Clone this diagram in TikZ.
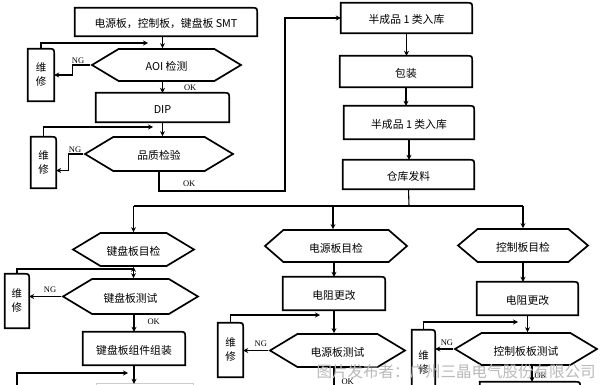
\documentclass[tikz,border=0pt]{standalone}
\usepackage{fontspec}
\setmainfont{Liberation Serif}
\newfontfamily\cjk{Noto Sans CJK SC}
\usetikzlibrary{arrows.meta,positioning,shapes.symbols}

\begin{document}
\begin{tikzpicture}[x=1pt,y=-1pt,
  proc/.style={rectangle,inner sep=0pt,font=\cjk\fontsize{10.8}{12}\selectfont,
    text height=12pt,text depth=0pt},
  check/.style={signal,signal to=east and west,signal pointer angle=62,draw,
    line width=1.7pt,inner sep=0pt,font=\cjk\fontsize{10.8}{12}\selectfont,
    text height=12pt,text depth=0pt},
  fix/.style={rectangle,inner sep=0pt,align=center,
    font=\cjk\fontsize{10.5}{14}\selectfont},
  outline/.style={line width=1.7pt,line join=miter},
  flow/.style={-{Stealth[length=5pt,width=5pt]},line width=1.1pt},
  back/.style={line width=1.1pt},
  elabel/.style={font=\fontsize{8.5}{9}\selectfont,inner sep=1pt}
]
\useasboundingbox (0,0) rectangle (600,385);
\fill[white] (0,0) rectangle (600,385);
\clip (0,0) rectangle (600,385);

% left column
\node[proc,minimum width=182pt,minimum height=28pt] (smt) at (166,22) {电源板，控制板，键盘板 SMT};
\node[check,minimum width=149pt,minimum height=32pt] (aoi) at (166.5,65) {AOI 检测};
\node[proc,minimum width=133pt,minimum height=29pt] (dip) at (162.5,107.5) {DIP};
\node[check,minimum width=148pt,minimum height=34pt] (qc) at (159,154) {品质检验};
\node[fix,minimum width=26pt,minimum height=52pt] (rep1) at (41,75) {维\\修};
\node[fix,minimum width=25pt,minimum height=51pt] (rep2) at (43.5,162.5) {维\\修};

% middle column
\node[proc,minimum width=131pt,minimum height=30pt] (semi1) at (406.5,18) {半成品 1 类入库};
\node[proc,minimum width=132pt,minimum height=31pt] (pack) at (406,71.5) {包装};
\node[proc,minimum width=130pt,minimum height=33pt] (semi2) at (409,122.5) {半成品 1 类入库};
\node[proc,minimum width=131pt,minimum height=29pt] (store) at (408.5,174.5) {仓库发料};
\coordinate (split) at (409,206);

% keyboard board
\node[check,minimum width=121pt,minimum height=33pt] (kbchk) at (133.5,249.5) {键盘板目检};
\node[check,minimum width=135pt,minimum height=35pt] (kbtest) at (130.5,296.5) {键盘板测试};
\node[fix,minimum width=24pt,minimum height=54pt] (rep3) at (17,301) {维\\修};
\node[proc,minimum width=102pt,minimum height=33pt] (kbasm) at (134,348.5) {键盘板组件组装};
\node[proc,minimum width=96pt,minimum height=32pt] (kbnext) at (145,400) {};

% power board
\node[check,signal pointer angle=82,minimum width=142pt,minimum height=32pt] (pschk) at (336,246) {电源板目检};
\node[proc,minimum width=102pt,minimum height=33pt] (psres) at (334,293.5) {电阻更改};
\node[check,minimum width=135pt,minimum height=33pt] (pstest) at (337.5,350.5) {电源板测试};
\node[fix,minimum width=25pt,minimum height=54pt] (rep4) at (230.5,350) {维\\修};

% control board
\node[check,signal pointer angle=80,minimum width=130pt,minimum height=33pt] (ctchk) at (523,245.5) {控制板目检};
\node[proc,minimum width=101pt,minimum height=33pt] (ctres) at (527.5,298.5) {电阻更改};
\node[check,minimum width=142pt,minimum height=32pt] (cttest) at (526,349) {控制板板测试};
\node[fix,minimum width=23pt,minimum height=65pt] (rep5) at (423.5,362.5) {维\\修};
\node[proc,minimum width=100pt,minimum height=36pt] (ctnext) at (530,400) {};

% box outlines, rounded at the top right
\foreach \b in {smt,dip,semi1,pack,semi2,store,kbasm,psres,ctres,ctnext,rep1,rep2,rep3,rep4,rep5}
  \draw[outline] (\b.north west) -- ([xshift=-6pt]\b.north east)
    .. controls (\b.north east) .. ([yshift=-6pt]\b.north east)
    -- (\b.south east) -- (\b.south west) -- cycle;
\draw[outline,gray!40,line width=1pt] (kbnext.south west) |- (kbnext.north east) -- (kbnext.south east);

% feedback ends
\coordinate (fb1) at (148,43);
\coordinate (fb2) at (153,127);
\coordinate (fb3) at (134,269);
\coordinate (fb4s) at (17,392);
\coordinate (fb4) at (128,373);
\coordinate (fb5) at (320,315);
\coordinate (fb6) at (518,322);
\coordinate (okturn) at (285,191);

% SMT to warehouse
\draw[flow] (dip.north |- smt.south) -- (dip.north |- aoi.north);
\draw[flow] (dip.north |- aoi.south) -- node[elabel,pos=.55,right=20pt]{OK} (dip.north);
\draw[flow] (dip.south) -- (dip.south |- qc.north);
\draw[flow] (aoi.west) -- ++(-18,0) node[elabel,above right=0pt and -2pt]{NG} |- (rep1.east);
\draw[flow] (rep1.north) |- (fb1);
\draw[flow] (qc.west) -- ++(-15,0) node[elabel,above right=0pt and -1pt]{NG} |- ([yshift=-8pt]rep2.east);
\draw[flow] (rep2.north) |- (fb2);
\draw[flow] (qc.south) |- node[elabel,pos=.62,above=3pt]{OK} (okturn) |- (semi1.west);
\draw[flow] (semi1.south) -- (semi1.south |- pack.north);
\draw[flow] (pack.south) -- (pack.south |- semi2.north);
\draw[flow] (semi2.south) -- (semi2.south |- store.north);
\draw[back] (store.south) -- (split);
\draw[back] (kbchk.north |- split) -- (ctchk.north |- split);
\draw[flow] (kbchk.north |- split) -- (kbchk.north);
\draw[flow] ([xshift=-3pt]pschk.north |- split) -- ([xshift=-3pt]pschk.north);
\draw[flow] (ctchk.north |- split) -- (ctchk.north);

% keyboard board
\draw[{Stealth[length=5pt,width=5pt]}-{Stealth[length=5pt,width=5pt]},line width=1.1pt] (kbchk.south) -- (kbchk.south |- kbtest.north);
\draw[back] (rep3.north) |- (fb3);
\draw[flow] (kbtest.west) -- node[elabel,above=2pt,pos=.35]{NG} (rep3.east |- kbtest.west);
\draw[flow] (kbtest.south -| kbasm.north) -- node[elabel,right=12pt,pos=.4]{OK} (kbasm.north);
\draw[flow] (kbasm.south) -- (kbasm.south |- kbnext.north);
\draw[flow] (fb4s) |- (fb4);

% power board
\draw[flow] (psres.north |- pschk.south) -- (psres.north);
\draw[flow] (psres.south) -- (psres.south |- pstest.north);
\draw[flow] (rep4.north) |- (fb5);
\draw[flow] (pstest.west) -- node[elabel,above=2pt,pos=.3]{NG} (rep4.east |- pstest.west);
\draw[back] (psres.south |- pstest.south) -- node[elabel,right=6pt,pos=.45]{OK} ++(0,30);

% control board
\draw[flow] (ctchk.south) -- (ctchk.south |- ctres.north);
\draw[flow] (ctres.south) -- (ctres.south |- cttest.north);
\draw[flow] (rep5.north) |- (fb6);
\draw[flow] (cttest.west) -- node[elabel,above=2pt,pos=.35]{NG} (rep5.east |- cttest.west);
\draw[flow] ([xshift=6pt]cttest.south) -- node[elabel,right=1pt,pos=.6]{OK} ([xshift=6pt]cttest.south |- ctnext.north);

\node[font=\cjk\fontsize{15.5}{16}\selectfont,text=gray!55] (wmark) at (456,372) {图片发布者：广州三晶电气股份有限公司};
\end{tikzpicture}
\end{document}
